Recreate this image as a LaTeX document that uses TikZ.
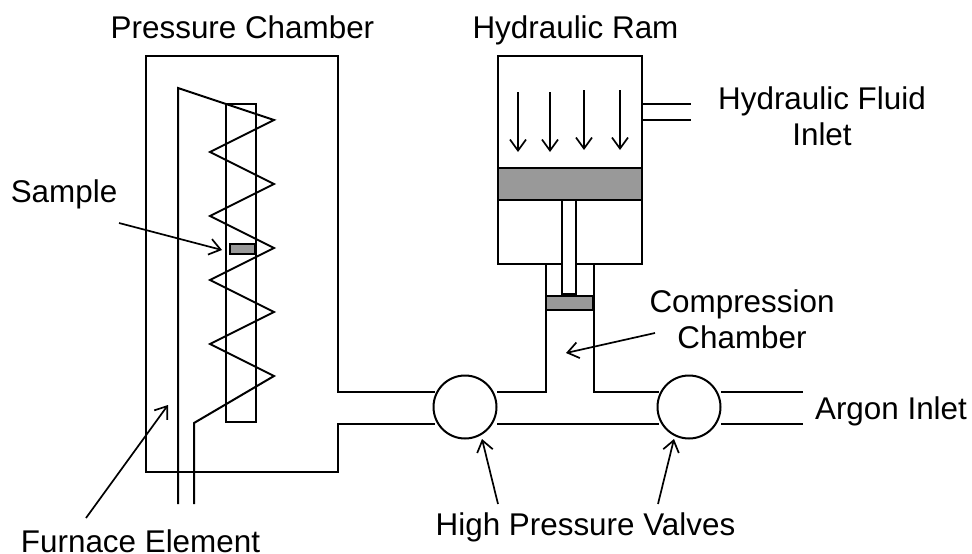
\documentclass[tikz,border=0pt]{standalone}
\usepackage{fontspec}
\setmainfont{Liberation Sans}
\usetikzlibrary{arrows.meta}
\definecolor{pistongray}{gray}{0.6}

\begin{document}
\begin{tikzpicture}[x=1pt,y=-1pt,line width=2pt,line join=miter]

\tikzset{
  wall/.style={draw=black},
  piston/.style={draw=black,fill=pistongray},
  valve/.style={draw=black,fill=white,circle,minimum size=63pt,inner sep=0pt},
  pointer/.style={line width=1.7pt,-{Straight Barb[length=11pt,width=16pt,line width=1.7pt]}},
  label/.style={font=\fontsize{31.4}{36}\selectfont,align=center,inner sep=0pt,anchor=base}
}

\useasboundingbox (0,0) rectangle (972,554);

% text
\node[label] (chamberlabel) at (242.5,38.5) {Pressure Chamber};
\node[label] (ramlabel) at (575.5,38.5) {Hydraulic Ram};
\node[label] (fluidlabel) at (822,145) {Hydraulic Fluid\\Inlet};
\node[label] (samplelabel) at (64,202) {Sample};
\node[label] (compressionlabel) at (742,348) {Compression\\Chamber};
\node[label] (argonlabel) at (891,419) {Argon Inlet};
\node[label] (valveslabel) at (585.5,535) {High Pressure Valves};
\node[label] (furnacelabel) at (140.5,552) {Furnace Element};

% valves
\node[valve] (valveA) at (465,407) {};
\node[valve] (valveB) at (689,407) {};

% pressure chamber and pipe
\draw[wall] (435,392) -- (338,392) -- (338,56) -- (146,56) -- (146,472) -- (338,472) -- (338,424) -- (435,424);
\draw[wall] (226,104) rectangle (256,422);
\draw[wall] (497,392) -- (546,392) -- (546,264);
\draw[wall] (497,424) -- (659,424);
\draw[wall] (659,392) -- (594,392) -- (594,264);
\draw[wall] (721,392) -- (803,392);
\draw[wall] (721,424) -- (803,424);

% heating element
\draw[wall] (178,504) -- (178,88) -- (274,120) -- (210,152) -- (274,184) -- (210,216) -- (274,248)
  -- (210,280) -- (274,312) -- (210,344) -- (274,376) -- (194,423) -- (194,504);
\draw[piston] (230,244) rectangle (255,254);

% ram
\draw[wall] (642,104) -- (691,104);
\draw[wall] (642,120) -- (691,120);
\draw[wall] (498,56) rectangle (642,264);
\draw[piston] (498,168) rectangle (642,200);
\draw[wall,fill=white] (562,200) rectangle (576,294);
\draw[piston] (546,296) rectangle (593,310);

% arrows
\foreach \x/\y in {518/92,550/92,584/90,620/90}
  \draw[pointer] (\x,\y) -- (\x,\y+60);

\coordinate (samplefrom) at (119,223);
\coordinate (sampleto) at (222,250);
\coordinate (furnacefrom) at (86,518);
\coordinate (furnaceto) at (168,405);
\coordinate (compressionfrom) at (655,333);
\coordinate (compressionto) at (566,353);
\coordinate (valveAfrom) at (498,504);
\coordinate (valveAto) at (482,439);
\coordinate (valveBfrom) at (658,504);
\coordinate (valveBto) at (674,439);

\draw[pointer] (samplefrom) -- (sampleto);
\draw[pointer] (furnacefrom) -- (furnaceto);
\draw[pointer] (compressionfrom) -- (compressionto);
\draw[pointer] (valveAfrom) -- (valveAto);
\draw[pointer] (valveBfrom) -- (valveBto);

\end{tikzpicture}
\end{document}
